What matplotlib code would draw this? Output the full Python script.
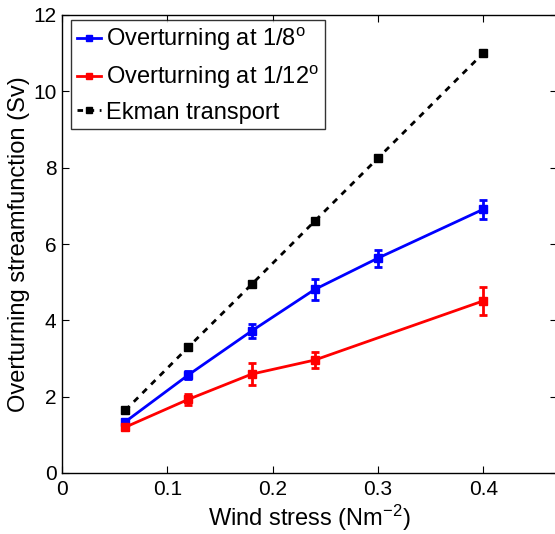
import matplotlib
matplotlib.use("Agg")
import matplotlib.pyplot as plt
from matplotlib.lines import Line2D

plt.rcParams['font.family'] = ['Liberation Sans', 'DejaVu Sans']
plt.rcParams['mathtext.fontset'] = 'custom'
plt.rcParams['mathtext.rm'] = 'Liberation Sans'
plt.rcParams['mathtext.it'] = 'Liberation Sans'

x_blue = [0.06, 0.12, 0.18, 0.24, 0.30, 0.40]
y_blue = [1.34, 2.57, 3.72, 4.81, 5.63, 6.91]
e_blue = [0.08, 0.10, 0.18, 0.28, 0.22, 0.25]

x_red = [0.06, 0.12, 0.18, 0.24, 0.40]
y_red = [1.20, 1.93, 2.59, 2.96, 4.51]
e_red = [0.08, 0.15, 0.28, 0.21, 0.36]

x_ek = [0.06, 0.12, 0.18, 0.24, 0.30, 0.40]
y_ek = [1.64, 3.30, 4.94, 6.60, 8.25, 11.0]

labels = ['Overturning at 1/8$^\\mathrm{o}$', 'Overturning at 1/12$^\\mathrm{o}$', 'Ekman transport']
xticks = [0, 0.1, 0.2, 0.3, 0.4]
yticks = [0, 2, 4, 6, 8, 10, 12]

W, H = 555, 534
fig = plt.figure(figsize=(W/100, H/100), dpi=100)
ax = fig.add_axes([62/W, 1-473/H, (557-62)/W, (473-15)/H])

ax.errorbar(x_blue, y_blue, yerr=e_blue, color='#0000ff', lw=2, marker='s', ms=6.2,
            capsize=3, elinewidth=2, capthick=2)
ax.errorbar(x_red, y_red, yerr=e_red, color='#ff0000', lw=2, marker='s', ms=6.2,
            capsize=3, elinewidth=2, capthick=2)
ax.plot(x_ek, y_ek, color='black', lw=2, ls=(0, (2.2, 2.2)), marker='s', ms=5.5)

ax.set_xlim(0, 0.47)
ax.set_ylim(0, 12)
ax.set_xticks(xticks)
ax.set_xticklabels([f'{t:g}' for t in xticks])
ax.set_yticks(yticks)
ax.tick_params(direction='in', top=True, right=True, length=5, width=0.8,
               labelsize=15, pad=4)
ax.tick_params(axis='x', pad=5)
for s in ax.spines.values():
    s.set_linewidth(1.0)

ax.set_xlabel('Wind stress (Nm$^{-2}$)', fontsize=17, labelpad=2.5)
ax.set_ylabel('Overturning streamfunction (Sv)', fontsize=17, labelpad=2)

handles = [
    Line2D([], [], color='#0000ff', lw=2, marker='s', ms=4.5),
    Line2D([], [], color='#ff0000', lw=2, marker='s', ms=4.5),
    Line2D([], [], color='black', lw=2, ls=(0, (2, 2)), marker='s', ms=4.5),
]
leg = ax.legend(handles, labels, loc='upper left', fontsize=17, frameon=True, fancybox=False,
                edgecolor='black', handlelength=1.0, handletextpad=0.25,
                bbox_to_anchor=(9/495, 1-5/458), borderaxespad=0.0,
                borderpad=0.25, labelspacing=0.45)
leg.get_frame().set_linewidth(1.0)

fig.savefig('out.png', dpi=100)
